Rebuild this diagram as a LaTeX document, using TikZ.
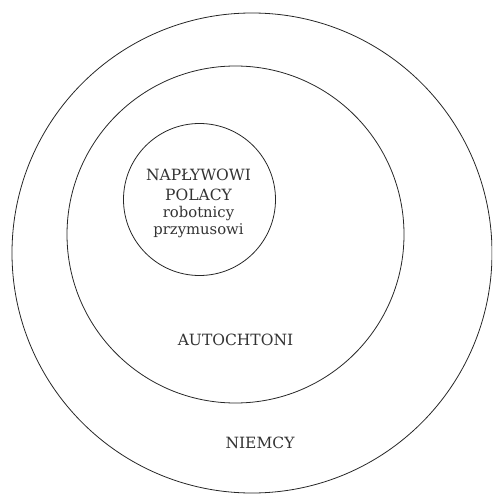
\documentclass[tikz,border=0pt]{standalone}
\usepackage{fontspec}
\setmainfont{DejaVu Serif}
\begin{document}
\begin{tikzpicture}[x=1pt,y=-1pt,
  ring/.style={draw=black!85, line width=0.8pt, circle, minimum size=#1, inner sep=0pt},
  label/.style={text=black!80, font=\fontsize{15.5}{18}\selectfont, anchor=base, inner sep=0pt},
  sublabel/.style={label, font=\fontsize{14.8}{18}\selectfont}]
  \useasboundingbox (0,0) rectangle (492,494);
  \clip (0,0) rectangle (492,494);
  % nested rings
  \node[ring=480pt] (niemcy) at (252,253) {};
  \node[ring=337pt] (autochtoni) at (235.5,234.5) {};
  \node[ring=152pt] (naplywowi) at (199.5,199.5) {};
  % labels of the innermost ring
  \node[label] (l1) at (198.5,180.7) {NAPŁYWOWI};
  \node[label] (l2) at (198.5,200.7) {POLACY};
  \node[sublabel] (l3) at (198.5,217.3) {robotnicy};
  \node[sublabel] (l4) at (198.5,234) {przymusowi};
  % labels of the outer rings
  \node[label] (l5) at (235.5,345.5) {AUTOCHTONI};
  \node[label] (l6) at (260,448.5) {NIEMCY};
\end{tikzpicture}
\end{document}
